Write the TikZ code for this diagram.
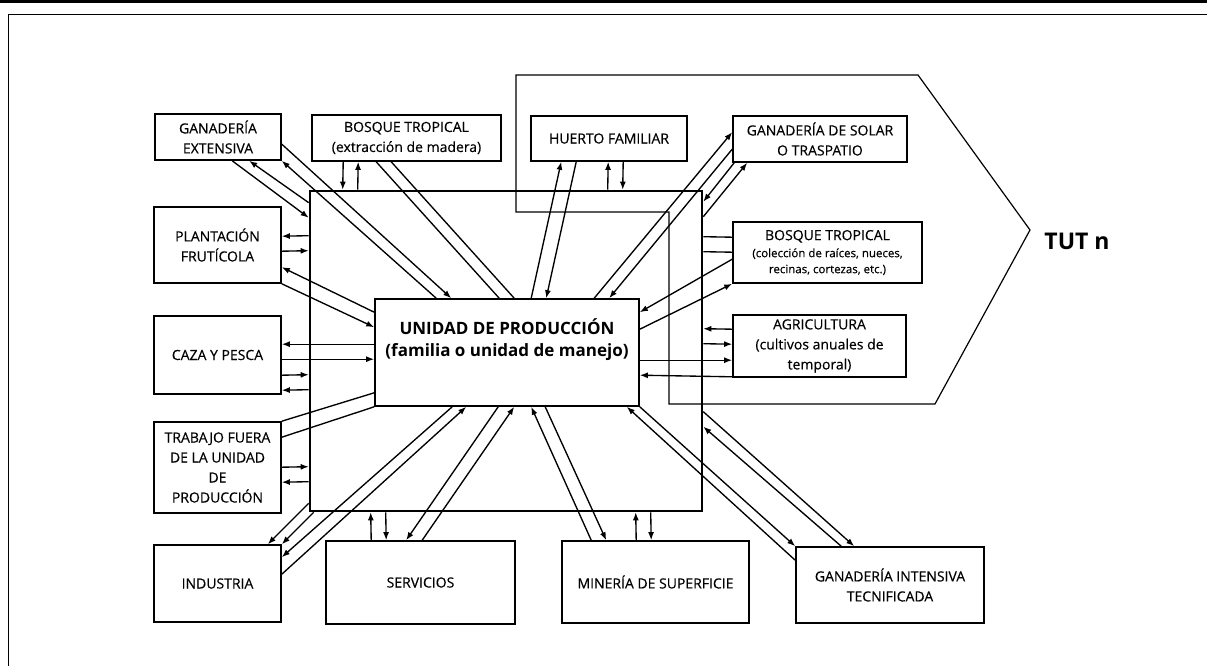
\documentclass[tikz,border=0pt]{standalone}
\usepackage{fontspec}
\setmainfont{Open Sans}
\newfontfamily\boxfont{Open Sans}[FakeBold=0.35]
\usetikzlibrary{arrows.meta,calc}
\begin{document}
\begin{tikzpicture}[x=1pt,y=-1pt,
  box/.style={draw,line width=1.6pt,inner sep=0pt,align=center,
    font=\boxfont\fontsize{14}{20}\selectfont},
  arr/.style={line width=1.35pt,-{Latex[length=8pt,width=6pt]}},
  link/.style={line width=1.35pt}
  ]
\useasboundingbox (0,0) rectangle (1207,666);

% page rules
\draw[line width=3pt] (0,2) -- (1207,2);
\draw[line width=1pt] (1207,15) -- (8,15) -- (8,666);

% production unit frame and the TUT outline
\node[draw,line width=2.6pt,inner sep=0pt,minimum width=392pt,minimum height=320pt] (frame) at (506,351) {};
\draw[line width=1.2pt] (516,75) -- (918,75) -- (1030,230) -- (935,404) -- (669,404) -- (669,212) -- (516,212) -- cycle;
\node[font=\fontsize{23}{23}\selectfont\bfseries] (tut) at (1077,241) {TUT n};

% land use boxes
\node[box,minimum width=126pt,minimum height=46pt] (gext) at (218,137) {GANADERÍA\\EXTENSIVA};
\node[box,minimum width=189pt,minimum height=46pt] (bext) at (406.5,138) {BOSQUE TROPICAL\\(extracción de madera)};
\node[box,minimum width=156pt,minimum height=45pt] (huerto) at (609,138.5) {HUERTO FAMILIAR};
\node[box,minimum width=174pt,minimum height=46pt] (gsolar) at (820,139) {GANADERÍA DE SOLAR\\O TRASPATIO};
\node[box,minimum width=127pt,minimum height=76pt] (plant) at (217.5,245) {PLANTACIÓN\\FRUTÍCOLA};
\node[box,minimum width=127pt,minimum height=78pt] (caza) at (217.5,355) {CAZA Y PESCA};
\node[box,minimum width=127pt,minimum height=91pt] (trabajo) at (217.5,467.5) {TRABAJO FUERA\\DE LA UNIDAD\\DE\\PRODUCCIÓN};
\node[box,minimum width=127pt,minimum height=77pt] (industria) at (217.5,583.5) {INDUSTRIA};
\node[box,minimum width=189pt,minimum height=83pt] (servicios) at (420.5,582.5) {SERVICIOS};
\node[box,minimum width=187pt,minimum height=82pt] (mineria) at (655.5,582) {MINERÍA DE SUPERFICIE};
\node[box,minimum width=188pt,minimum height=76pt] (gint) at (890,585) {GANADERÍA INTENSIVA\\TECNIFICADA};
\node[box,minimum width=189pt,minimum height=61pt] (bcol) at (827.5,252.5)
  {BOSQUE TROPICAL\\[-3pt]{\fontsize{11.5}{15}\selectfont (colección de raíces, nueces,}\\[-4pt]{\fontsize{11.5}{15}\selectfont recinas, cortezas, etc.)}};
\node[box,minimum width=173pt,minimum height=62pt] (agri) at (819.5,346) {AGRICULTURA\\(cultivos anuales de\\temporal)};

% central unit
\node[draw,line width=1.6pt,inner sep=0pt,minimum width=264pt,minimum height=107pt] (central) at (507,352.5) {};
\node[font=\fontsize{17}{22}\selectfont\bfseries,align=center] (centraltext) at ($(central.center)+(0,-13)$)
  {UNIDAD DE PRODUCCIÓN\\(familia o unidad de manejo)};

% top exchanges
\draw[arr] ($(bext.south west)+(32,0)$) -- ($(frame.north west)+(34,0)$);
\draw[arr] ($(frame.north west)+(49,0)$) -- ($(bext.south west)+(47,0)$);
\draw[arr] ($(huerto.south west)+(93,0)$) -- ($(frame.north west)+(314,0)$);
\draw[arr] ($(frame.north west)+(299,0)$) -- ($(huerto.south west)+(78,0)$);

% bottom exchanges
\draw[arr] ($(servicios.north west)+(46,0)$) -- ($(frame.south west)+(62,0)$);
\draw[arr] ($(frame.south west)+(77,0)$) -- ($(servicios.north west)+(61,0)$);
\draw[arr] ($(mineria.north west)+(75,0)$) -- ($(frame.south west)+(327,0)$);
\draw[arr] ($(frame.south west)+(342,0)$) -- ($(mineria.north west)+(90,0)$);

% left side
\draw[arr] ($(frame.north west)+(0,46)$) -- ($(plant.north east)+(0,30)$);
\draw[arr] ($(plant.north east)+(0,45)$) -- ($(frame.north west)+(0,61)$);
\draw[arr] ($(central.north west)+(0,14)$) -- ($(plant.north east)+(0,61)$);
\draw[arr] (plant.south east) -- ($(central.north west)+(0,29)$);
\draw[arr] ($(central.north west)+(0,46)$) -- ($(caza.north east)+(0,29)$);
\draw[arr] ($(caza.north east)+(0,44)$) -- ($(central.north west)+(0,61)$);
\draw[arr] ($(caza.north east)+(0,60)$) -- ($(frame.north west)+(0,185)$);
\draw[arr] ($(frame.north west)+(0,200)$) -- ($(caza.north east)+(0,75)$);
\draw[link] (trabajo.north east) -- ($(central.south west)+(0,-14)$);
\draw[link] ($(trabajo.north east)+(0,16)$) -- (central.south west);
\draw[arr] ($(trabajo.north east)+(0,46)$) -- ($(frame.north west)+(0,277)$);
\draw[arr] ($(frame.north west)+(0,292)$) -- ($(trabajo.north east)+(0,61)$);

% ganaderia extensiva
\draw[arr] ($(gext.south west)+(78,0)$) -- ($(frame.north west)+(0,28)$);
\draw[arr] ($(frame.north west)+(0,13)$) -- ($(gext.south west)+(95,0)$);
\draw[arr] ($(gext.north east)+(0,31)$) -- ($(central.north west)+(77,0)$);
\draw[arr] ($(central.north west)+(62,0)$) -- (gext.south east);

% bosque tropical, extraction
\draw[link] ($(bext.south west)+(65,0)$) -- ($(central.north west)+(125,0)$);
\draw[link] ($(bext.south west)+(80,0)$) -- ($(central.north west)+(140,0)$);

% huerto familiar
\draw[arr] ($(central.north west)+(157,0)$) -- ($(huerto.south west)+(31,0)$);
\draw[arr] ($(huerto.south west)+(46,0)$) -- ($(central.north west)+(172,0)$);

% ganaderia de solar
\draw[arr] ($(central.north west)+(220,0)$) -- ($(gsolar.north west)+(0,17)$);
\draw[arr] ($(gsolar.north west)+(0,34)$) -- ($(central.north west)+(235,0)$);
\draw[arr] ($(gsolar.south west)+(2,0)$) -- ($(frame.north east)+(0,12)$);
\draw[arr] ($(frame.north east)+(0,27)$) -- ($(gsolar.south west)+(15,0)$);

% bosque tropical, collection
\draw[link] ($(frame.north east)+(0,47)$) -- ($(bcol.north west)+(0,16)$);
\draw[link] ($(frame.north east)+(0,62)$) -- ($(bcol.north west)+(0,31)$);
\draw[arr] ($(bcol.north west)+(0,38)$) -- ($(central.north east)+(0,14)$);
\draw[arr] ($(central.north east)+(0,31)$) -- (bcol.south west);

% agricultura
\draw[arr] ($(agri.north west)+(0,15)$) -- ($(frame.north east)+(0,139)$);
\draw[arr] ($(frame.north east)+(0,154)$) -- ($(agri.north west)+(0,30)$);
\draw[arr] ($(central.north east)+(0,62)$) -- ($(agri.north west)+(0,46)$);
\draw[arr] ($(agri.south west)+(0,-1)$) -- ($(central.north east)+(0,77)$);

% industria
\draw[arr] ($(frame.south west)+(0,-9)$) -- ($(industria.north east)+(-14,0)$);
\draw[arr] ($(frame.south west)+(5,0)$) -- (industria.north east);
\draw[arr] ($(central.south west)+(78,0)$) -- ($(industria.north east)+(0,13)$);
\draw[arr] ($(industria.north east)+(0,30)$) -- ($(central.south west)+(92,0)$);

% servicios
\draw[arr] ($(central.south west)+(124,0)$) -- ($(servicios.north west)+(81,0)$);
\draw[arr] ($(servicios.north west)+(97,0)$) -- ($(central.south west)+(140,0)$);

% mineria
\draw[arr] ($(mineria.north west)+(30,0)$) -- ($(central.south west)+(157,0)$);
\draw[arr] ($(central.south west)+(171,0)$) -- ($(mineria.north west)+(45,0)$);

% ganaderia intensiva
\draw[arr] (central.south east) -- (gint.north west);
\draw[arr] ($(gint.north west)+(0,14)$) -- ($(central.south east)+(-13,0)$);
\draw[arr] ($(frame.north east)+(0,222)$) -- ($(gint.north west)+(59,0)$);
\draw[arr] ($(gint.north west)+(46,0)$) -- ($(frame.north east)+(0,237)$);
\end{tikzpicture}
\end{document}
